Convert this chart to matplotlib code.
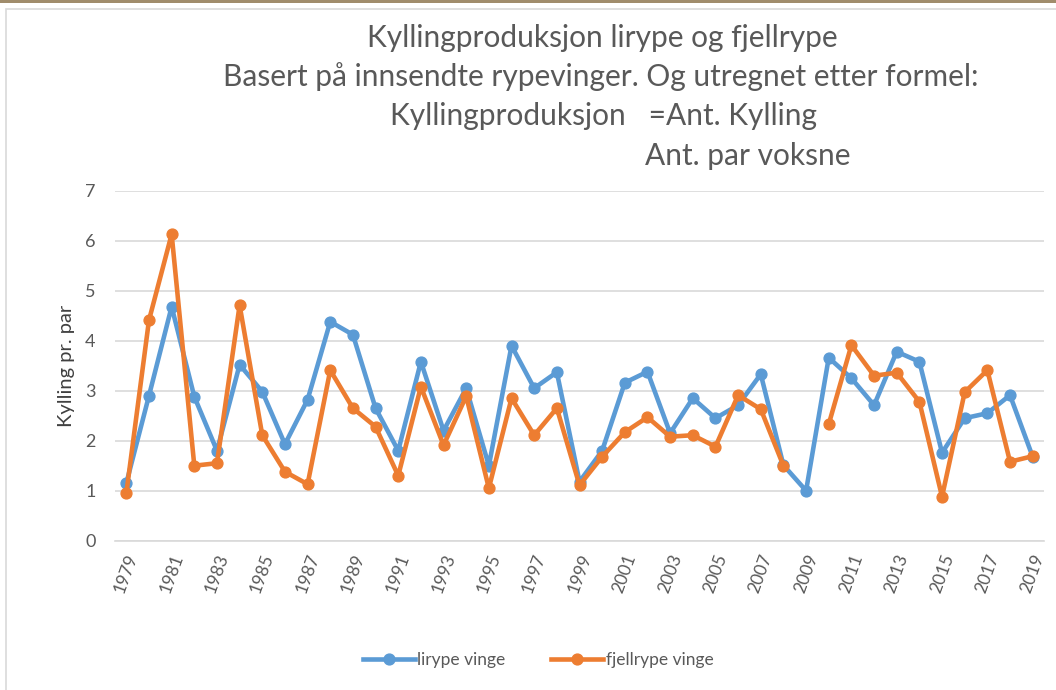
import matplotlib
matplotlib.use("Agg")
import matplotlib.pyplot as plt
from matplotlib.patches import Rectangle
import numpy as np

years = list(range(1979, 2020))
lirype = [1.15, 2.90, 4.68, 2.88, 1.80, 3.52, 2.98, 1.93, 2.82, 4.38,
          4.12, 2.65, 1.80, 3.58, 2.20, 3.05, 1.50, 3.90, 3.05, 3.37,
          1.18, 1.80, 3.16, 3.38, 2.15, 2.85, 2.45, 2.71, 3.33, 1.51,
          1.00, 3.66, 3.25, 2.71, 3.78, 3.58, 1.76, 2.45, 2.55, 2.91,
          1.68]
fjellrype = [0.95, 4.41, 6.13, 1.50, 1.55, 4.71, 2.11, 1.38, 1.13, 3.41,
             2.65, 2.28, 1.30, 3.08, 1.91, 2.89, 1.05, 2.85, 2.11, 2.65,
             1.11, 1.68, 2.17, 2.47, 2.08, 2.11, 1.88, 2.91, 2.63, 1.50,
             np.nan, 2.33, 3.91, 3.30, 3.36, 2.78, 0.88, 2.97, 3.41, 1.58,
             1.69]
tick_years = [str(y) for y in years[::2]]
series_names = ["lirype vinge", "fjellrype vinge"]
title_lines = ["Kyllingproduksjon lirype og fjellrype",
               "Basert på innsendte rypevinger. Og utregnet etter formel:",
               "Kyllingproduksjon   =Ant. Kylling",
               "Ant. par voksne"]
ylabel = "Kylling pr. par"

plt.rcParams['font.family'] = ['Lato', 'DejaVu Sans']

W, H = 1056, 690
fig = plt.figure(figsize=(W / 100, H / 100), dpi=100)

# frame decorations
fig.patches.append(Rectangle((0, 1 - 3 / H), 1, 3 / H, transform=fig.transFigure,
                             facecolor="#A08C6C", edgecolor="none"))
fig.patches.append(Rectangle((6 / W, -0.01), 1.0, 1 - 9 / H + 0.01, transform=fig.transFigure,
                             facecolor="none", edgecolor="#D9D9D9", linewidth=1.2))

ax = fig.add_axes([115 / W, 1 - 540.7 / H, (1044 - 115) / W, (540.7 - 190.7) / H])
x = np.arange(len(years))
blue = "#5B9BD5"
orange = "#ED7D31"
ax.plot(x, lirype, color=blue, lw=3.3, marker="o", ms=7.8, label=series_names[0],
        solid_joinstyle="round", zorder=3)
ax.plot(x, fjellrype, color=orange, lw=3.3, marker="o", ms=7.8, label=series_names[1],
        solid_joinstyle="round", zorder=4)

ax.set_xlim(-0.5, len(years) - 0.5)
ax.set_ylim(0, 7)
ax.set_yticks(range(0, 8))
ax.yaxis.grid(True, color="#D9D9D9", lw=1.2)
ax.set_axisbelow(True)
ax.set_xticks(x[::2])
ax.set_xticklabels(tick_years, rotation=70, ha="center", fontsize=12.5, color="#595959")
for lbl in ax.get_yticklabels():
    lbl.set_fontsize(13)
    lbl.set_color("#595959")
ax.tick_params(axis="both", length=0)
ax.tick_params(axis="y", pad=14)
ax.tick_params(axis="x", pad=8)
for s in ["top", "right", "left"]:
    ax.spines[s].set_visible(False)
ax.spines["bottom"].set_color("#D9D9D9")
ax.spines["bottom"].set_linewidth(1.2)
ax.set_ylabel(ylabel, fontsize=14.5, color="#404040", labelpad=7)

ys = [38, 77, 116, 156]
xs = [602, 601, 604, 748]
for t, yy, xx in zip(title_lines, ys, xs):
    fig.text(xx / W, 1 - yy / H, t, ha="center", va="center", fontsize=21.5, color="#595959")

fig.legend(loc="center", bbox_to_anchor=(538 / W, 1 - 660 / H), ncol=2, frameon=False,
           fontsize=12.5, labelcolor="#595959", handlelength=3.0, columnspacing=2.6,
           handletextpad=0.15)

fig.savefig("out.png", dpi=100)
